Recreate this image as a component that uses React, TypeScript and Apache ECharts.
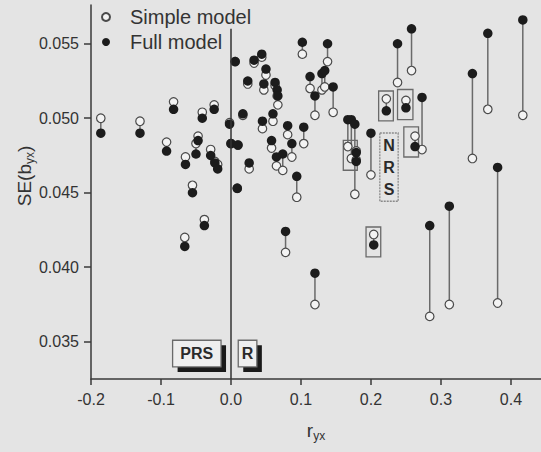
import React, { useEffect, useRef } from "react";
import * as echarts from "echarts";

// correlation r_yx for each study
const rYX = [
  -0.186, -0.13, -0.092, -0.082, -0.065, -0.055, -0.047, -0.05, -0.041, -0.029,
  -0.024, -0.023, -0.019, -0.038, -0.066, -0.002, 0.0, 0.01, 0.009, 0.006,
  0.017, 0.024, 0.026, 0.033, 0.044, 0.05, 0.047, 0.063, 0.066, 0.067,
  0.06, 0.045, 0.081, 0.104, 0.058, 0.087, 0.065, 0.074, 0.094, 0.102,
  0.138, 0.113, 0.13, 0.134, 0.12, 0.146, 0.167, 0.172, 0.177, 0.179,
  0.179, 0.2, 0.222, 0.25, 0.238, 0.258, 0.273, 0.263, 0.345, 0.367,
  0.417, 0.381, 0.312, 0.284, 0.078, 0.12, 0.204,
];
// SE(b_yx) under the simple model
const seSimple = [
  0.05, 0.0498, 0.0484, 0.0511, 0.0474, 0.0455, 0.0488, 0.0483, 0.0504, 0.0479,
  0.0509, 0.0471, 0.0469, 0.0432, 0.042, 0.0497, 0.0483, 0.0482, 0.0453, 0.0538,
  0.0502, 0.0523, 0.0466, 0.0537, 0.0541, 0.0529, 0.0519, 0.0522, 0.0515, 0.0509,
  0.0498, 0.0493, 0.0489, 0.0483, 0.048, 0.0474, 0.0468, 0.0465, 0.0447, 0.0543,
  0.0538, 0.052, 0.0519, 0.0521, 0.0502, 0.0504, 0.0481, 0.0473, 0.0449, 0.0478,
  0.0472, 0.0462, 0.0513, 0.0512, 0.0524, 0.0532, 0.0479, 0.0488, 0.0473, 0.0506,
  0.0502, 0.0376, 0.0375, 0.0367, 0.041, 0.0375, 0.0422,
];
// SE(b_yx) under the full model
const seFull = [
  0.049, 0.049, 0.0478, 0.0506, 0.0469, 0.045, 0.0485, 0.0476, 0.05, 0.0475,
  0.0506, 0.047, 0.0466, 0.0428, 0.0414, 0.0496, 0.0483, 0.0482, 0.0453, 0.0538,
  0.0503, 0.0525, 0.047, 0.0539, 0.0543, 0.0533, 0.0523, 0.0524, 0.0519, 0.0515,
  0.0503, 0.0498, 0.0495, 0.0494, 0.0485, 0.0483, 0.0474, 0.0476, 0.0461, 0.0551,
  0.055, 0.0528, 0.053, 0.0532, 0.0515, 0.0521, 0.0499, 0.0499, 0.0496, 0.0477,
  0.0471, 0.049, 0.0505, 0.0507, 0.055, 0.056, 0.0514, 0.0481, 0.053, 0.0557,
  0.0566, 0.0467, 0.0441, 0.0428, 0.0424, 0.0396, 0.0415,
];
const xTicks = [-0.2, -0.1, 0.0, 0.1, 0.2, 0.3, 0.4];
const yTicks = [0.035, 0.04, 0.045, 0.05, 0.055];
const seriesNames = ["Simple model", "Full model"];

// annotation boxes in data space: [rMin, rMax, seMin, seMax]
const pairBoxes = [
  [0.1605, 0.1805, 0.04651, 0.04852],
  [0.211, 0.232, 0.04982, 0.05183],
  [0.238, 0.26, 0.04991, 0.05193],
  [0.247, 0.268, 0.0474, 0.04942],
  [0.193, 0.214, 0.04069, 0.0427],
];
const labelTexts = ["N\nR\nS", "PRS", "R"];
const labelExtents = [
  [0.2127, 0.2389, 0.04443, 0.04901],
  [-0.0834, -0.0142, 0.03331, 0.0351],
  [0.0104, 0.037, 0.03331, 0.0351],
];

const FONT = "'Liberation Sans', Arial, Helvetica, sans-serif";
const BG = "#e4e4e4";
const TXT = "#333333";

export default function App() {
  const ref = useRef<HTMLDivElement>(null);
  useEffect(() => {
    if (!ref.current) return;
    const chart = echarts.init(ref.current, null, { renderer: "svg" });

    const annotations = [
      ...pairBoxes.map((b) => ({ ext: b, text: "", kind: "pair" })),
      { ext: labelExtents[0], text: labelTexts[0], kind: "nrs" },
      { ext: labelExtents[1], text: labelTexts[1], kind: "shadow" },
      { ext: labelExtents[2], text: labelTexts[2], kind: "shadow" },
    ];

    const option: any = {
      animation: false,
      backgroundColor: BG,
      textStyle: { fontFamily: FONT },
      grid: { left: 91, top: 5, right: 0, bottom: 73, containLabel: false },
      legend: {
        orient: "vertical",
        left: 96,
        top: 2,
        itemWidth: 20,
        itemHeight: 8,
        itemGap: 5,
        textStyle: { fontSize: 20, color: TXT, fontFamily: FONT, padding: [0, 0, 0, 9] },
        data: [
          { name: seriesNames[0], icon: "circle" },
          { name: seriesNames[1], icon: "circle" },
        ],
      },
      xAxis: {
        type: "value",
        min: -0.2,
        max: 0.443,
        splitLine: { show: false },
        axisLine: { show: true, onZero: false, lineStyle: { color: "#3a3a3a", width: 1.5 } },
        axisTick: { show: true, length: 6, customValues: xTicks, lineStyle: { color: "#3a3a3a", width: 1.5 } },
        axisLabel: {
          customValues: xTicks,
          formatter: (v: number) => v.toFixed(1),
          fontSize: 16,
          color: TXT,
          fontFamily: FONT,
          margin: 12,
        },
      },
      yAxis: {
        type: "value",
        min: 0.0325,
        max: 0.0576,
        splitLine: { show: false },
        axisLine: { show: true, onZero: false, lineStyle: { color: "#3a3a3a", width: 1.5 } },
        axisTick: { show: true, length: 7, customValues: yTicks, lineStyle: { color: "#3a3a3a", width: 1.5 } },
        axisLabel: {
          customValues: yTicks,
          formatter: (v: number) => v.toFixed(3),
          fontSize: 16,
          color: TXT,
          fontFamily: FONT,
          margin: 12,
        },
      },
      graphic: [
        {
          type: "text",
          x: 316,
          y: 430,
          style: {
            text: "{m|r}{s|yx}",
            align: "center",
            verticalAlign: "middle",
            rich: {
              m: { fontSize: 19, fontFamily: FONT, fill: TXT },
              s: { fontSize: 12, fontFamily: FONT, fill: TXT, padding: [12, 0, 0, 0] },
            },
          },
        },
        {
          type: "text",
          x: 24,
          y: 176,
          rotation: Math.PI / 2,
          style: {
            text: "{m|SE(b}{s|yx}{m|)}",
            align: "center",
            verticalAlign: "middle",
            rich: {
              m: { fontSize: 19, fontFamily: FONT, fill: TXT },
              s: { fontSize: 12, fontFamily: FONT, fill: TXT, padding: [12, 0, 0, 0] },
            },
          },
        },
      ],
      series: [
        {
          type: "custom",
          name: "pairs",
          z: 1,
          silent: true,
          encode: { x: 0, y: [1, 2] },
          data: rYX.map((r, i) => [r, seSimple[i], seFull[i]]),
          renderItem: (params: any, api: any) => {
            const p1 = api.coord([api.value(0), api.value(1)]);
            const p2 = api.coord([api.value(0), api.value(2)]);
            return {
              type: "line",
              shape: { x1: p1[0], y1: p1[1], x2: p2[0], y2: p2[1] },
              style: { stroke: "#6a6a6a", lineWidth: 1.5 },
            };
          },
          markLine: {
            silent: true,
            symbol: "none",
            label: { show: false },
            lineStyle: { color: "#333", width: 1.5, type: "solid" },
            data: [[{ coord: [0, 0.0325] }, { coord: [0, 0.056] }]],
          },
        },
        {
          type: "custom",
          name: "boxes",
          z: 2,
          silent: true,
          encode: { x: [0, 1], y: [2, 3] },
          data: annotations.map((a) => a.ext),
          renderItem: (params: any, api: any) => {
            const a = annotations[params.dataIndex];
            const tl = api.coord([a.ext[0], a.ext[3]]);
            const br = api.coord([a.ext[1], a.ext[2]]);
            const w = br[0] - tl[0];
            const h = br[1] - tl[1];
            const children: any[] = [];
            if (a.kind === "shadow") {
              children.push({
                type: "rect",
                shape: { x: tl[0] + 5, y: tl[1] + 5, width: w, height: h },
                style: { fill: "#1a1a1a" },
              });
            }
            children.push({
              type: "rect",
              shape: { x: tl[0], y: tl[1], width: w, height: h },
              style: {
                fill: a.kind === "shadow" ? "#eeeeee" : "none",
                stroke: a.kind === "nrs" ? "#8a8a8a" : "#6a6a6a",
                lineWidth: 1.3,
                lineDash: a.kind === "nrs" ? [2, 1] : null,
              },
            });
            if (a.text) {
              children.push({
                type: "text",
                x: tl[0] + w / 2,
                y: tl[1] + h / 2,
                style: {
                  text: a.text,
                  align: "center",
                  verticalAlign: "middle",
                  fontSize: 16,
                  fontWeight: "bold",
                  fontFamily: FONT,
                  fill: "#2a2a2a",
                  lineHeight: 22,
                },
              });
            }
            return { type: "group", children };
          },
        },
        {
          type: "scatter",
          name: seriesNames[0],
          z: 3,
          symbol: "circle",
          symbolSize: 8.5,
          itemStyle: { color: "#f3f3f3", borderColor: "#4a4a4a", borderWidth: 1.2, opacity: 1 },
          data: rYX.map((r, i) => [r, seSimple[i]]),
        },
        {
          type: "scatter",
          name: seriesNames[1],
          z: 4,
          symbol: "circle",
          symbolSize: 9.5,
          itemStyle: { color: "#1c1c1c", opacity: 1 },
          data: rYX.map((r, i) => [r, seFull[i]]),
        },
      ],
    };
    chart.setOption(option);
    return () => chart.dispose();
  }, []);

  return (
    <div style={{ position: "absolute", left: 0, top: 0, width: 541, height: 452, background: BG }}>
      <div ref={ref} style={{ width: 541, height: 452 }} />
    </div>
  );
}
